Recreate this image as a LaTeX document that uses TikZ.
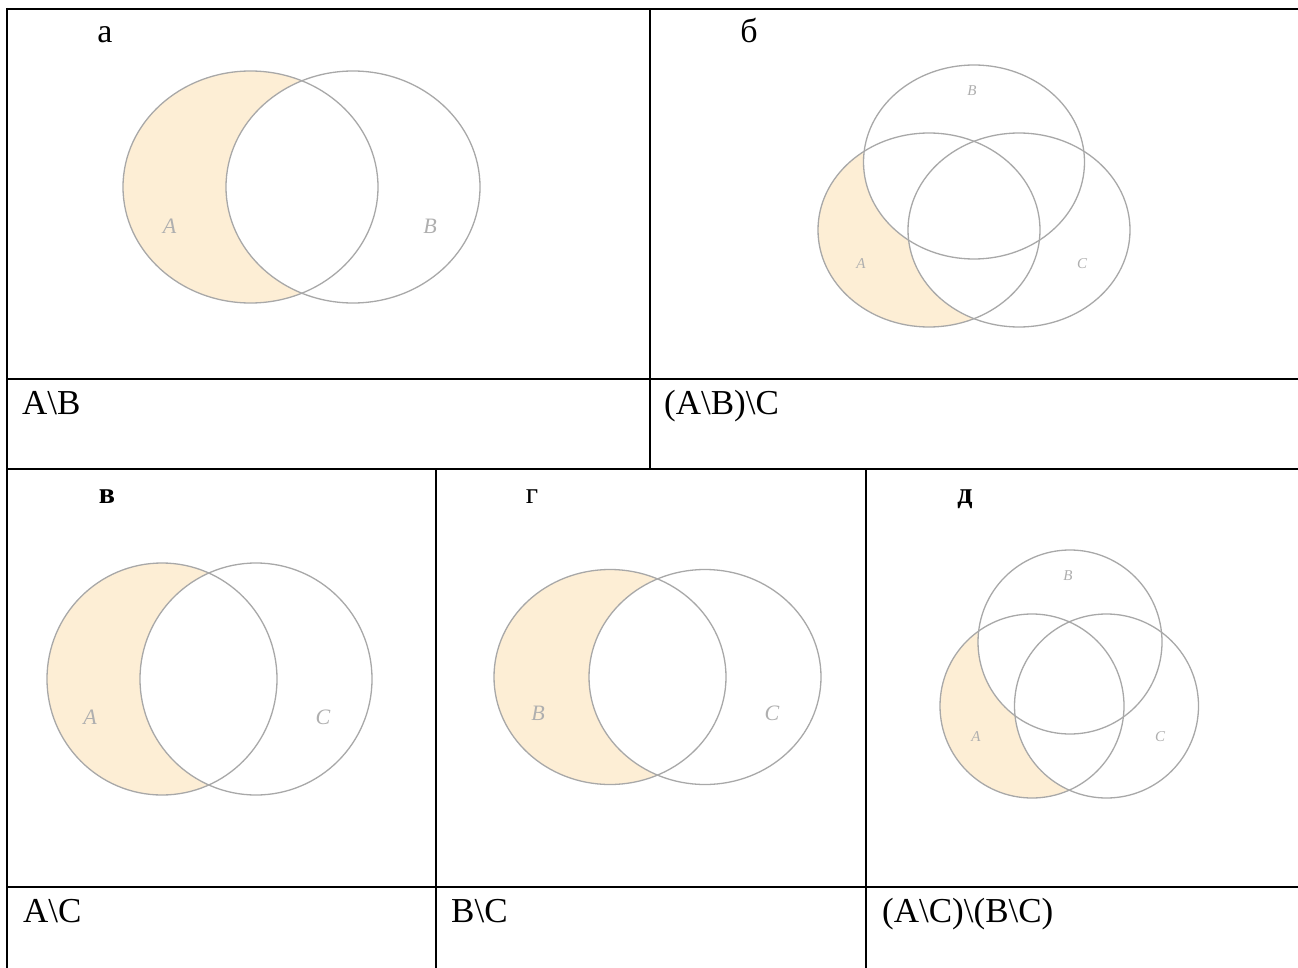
\documentclass[tikz,border=0pt]{standalone}
\usepackage{fontspec}
\setmainfont{Liberation Serif}
\definecolor{zalivka}{RGB}{253,238,213}
\definecolor{kontur}{RGB}{168,168,168}
\definecolor{metka}{RGB}{175,175,175}

\begin{document}
\begin{tikzpicture}[
    x=1pt,
    y=-1pt,
    setka/.style={line width=2pt, black},
    krug/.style={draw=kontur, line width=1.3pt},
    bukva/.style={anchor=base, inner sep=0pt, font=\fontsize{34}{40}\selectfont},
    malbukva/.style={anchor=base, inner sep=0pt, font=\fontsize{30}{36}\selectfont},
    formula/.style={anchor=base west, inner sep=0pt, font=\fontsize{35}{40}\selectfont},
    imya/.style={text=metka, inner sep=0pt, font=\itshape\fontsize{22}{26}\selectfont},
    malimya/.style={text=metka, inner sep=0pt, font=\itshape\fontsize{15}{18}\selectfont}
]
    \useasboundingbox (0,0) rectangle (1298,968);

    % таблица
    \draw[setka] (6,9) -- (1298,9);
    \draw[setka] (7,8) -- (7,968);
    \draw[setka] (7,379) -- (1298,379);
    \draw[setka] (7,469) -- (1298,469);
    \draw[setka] (650,9) -- (650,469);
    \draw[setka] (7,887) -- (1298,887);
    \draw[setka] (436,469) -- (436,968);
    \draw[setka] (866,469) -- (866,968);

    % а: A\B
    \fill[zalivka] (250.5,187) ellipse [x radius=127.5, y radius=116];
    \fill[white] (353,187) ellipse [x radius=127, y radius=116];
    \draw[krug] (250.5,187) ellipse [x radius=127.5, y radius=116];
    \draw[krug] (353,187) ellipse [x radius=127, y radius=116];
    \node[imya] (aA) at (169.5,226) {A};
    \node[imya] (aB) at (430,226) {B};
    \node[bukva] (pa) at (105,43) {а};
    \node[formula] (fa) at (22,414) {A\textbackslash B};

    % б: (A\B)\C
    \fill[zalivka] (929,230) ellipse [x radius=111, y radius=97];
    \fill[white] (974,162) ellipse [x radius=110.5, y radius=97];
    \fill[white] (1019,230) ellipse [x radius=111, y radius=97];
    \draw[krug] (929,230) ellipse [x radius=111, y radius=97];
    \draw[krug] (974,162) ellipse [x radius=110.5, y radius=97];
    \draw[krug] (1019,230) ellipse [x radius=111, y radius=97];
    \node[malimya] (bB) at (972,91) {B};
    \node[malimya] (bA) at (861,264) {A};
    \node[malimya] (bC) at (1082,264) {C};
    \node[bukva] (pb) at (749,43) {б};
    \node[formula] (fb) at (664,414) {(A\textbackslash B)\textbackslash C};

    % в: A\C
    \fill[zalivka] (162,679) ellipse [x radius=115, y radius=116];
    \fill[white] (256,679) ellipse [x radius=116, y radius=116];
    \draw[krug] (162,679) ellipse [x radius=115, y radius=116];
    \draw[krug] (256,679) ellipse [x radius=116, y radius=116];
    \node[imya] (vA) at (90,717) {A};
    \node[imya] (vC) at (323,717) {C};
    \node[malbukva, font=\bfseries\fontsize{30}{36}\selectfont] (pv) at (107,503) {в};
    \node[formula] (fv) at (23,922) {A\textbackslash C};

    % г: B\C
    \fill[zalivka] (610,677) ellipse [x radius=116, y radius=107.5];
    \fill[white] (705,677) ellipse [x radius=116, y radius=107.5];
    \draw[krug] (610,677) ellipse [x radius=116, y radius=107.5];
    \draw[krug] (705,677) ellipse [x radius=116, y radius=107.5];
    \node[imya] (gB) at (538,713) {B};
    \node[imya] (gC) at (772,713) {C};
    \node[malbukva] (pg) at (532,503) {г};
    \node[formula] (fg) at (451,922) {B\textbackslash C};

    % д: (A\C)\(B\C)
    \fill[zalivka] (1032,706) circle [radius=92];
    \fill[white] (1070,642) circle [radius=92];
    \fill[white] (1106.5,706) circle [radius=92];
    \draw[krug] (1032,706) circle [radius=92];
    \draw[krug] (1070,642) circle [radius=92];
    \draw[krug] (1106.5,706) circle [radius=92];
    \node[malimya] (dB) at (1068,576) {B};
    \node[malimya] (dA) at (976,737) {A};
    \node[malimya] (dC) at (1160,737) {C};
    \node[malbukva, font=\bfseries\fontsize{30}{36}\selectfont] (pd) at (965,503) {д};
    \node[formula] (fd) at (882,922) {(A\textbackslash C)\textbackslash (B\textbackslash C)};
\end{tikzpicture}
\end{document}
